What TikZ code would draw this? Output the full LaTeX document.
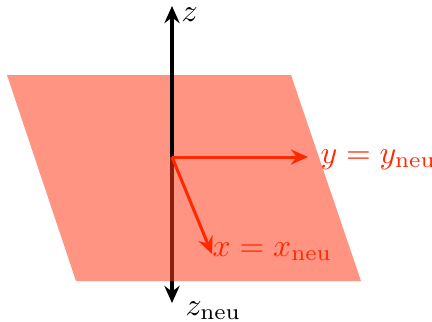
\documentclass[tikz,border=0pt]{standalone}
\usetikzlibrary{arrows.meta}
\definecolor{planecol}{RGB}{255,60,30}
\definecolor{axred}{RGB}{255,40,0}
\begin{document}
\begin{tikzpicture}[x=0.315pt,y=-0.315pt,
  tip/.style={-{Stealth[length=5.4pt,width=4.8pt,inset=1.8pt]}},
  axis/.style={line width=0.95pt,black,tip},
  redaxis/.style={line width=0.95pt,axred,tip},
  plane/.style={fill=planecol,fill opacity=0.55,draw=none},
  redlabel/.style={text=axred,inner sep=0pt}]
\useasboundingbox (0,0) rectangle (432,321);
\coordinate (O) at (172,157);
\coordinate (ztop) at (172,6);
\coordinate (zbot) at (172,303);
\draw[axis] (O) -- (zbot);
\fill[plane] (7,75) -- (291,75) -- (361,281) -- (76,281) -- cycle;
\draw[axis] (O) -- (ztop);
\coordinate (yend) at (308,157);
\coordinate (xend) at (212,254);
\draw[redaxis] (O) -- (yend);
\draw[redaxis] (O) -- (xend);
\node[inner sep=0pt,anchor=west] (zl) at (181,15) {$z$};
\node[inner sep=0pt,anchor=base west] (znl) at (185,315) {$z_{\mathrm{neu}}$};
\node[redlabel,anchor=base west] (yl) at (320,163) {$y = y_{\mathrm{neu}}$};
\node[redlabel,anchor=base west] (xl) at (212,256) {$x = x_{\mathrm{neu}}$};
\end{tikzpicture}
\end{document}
